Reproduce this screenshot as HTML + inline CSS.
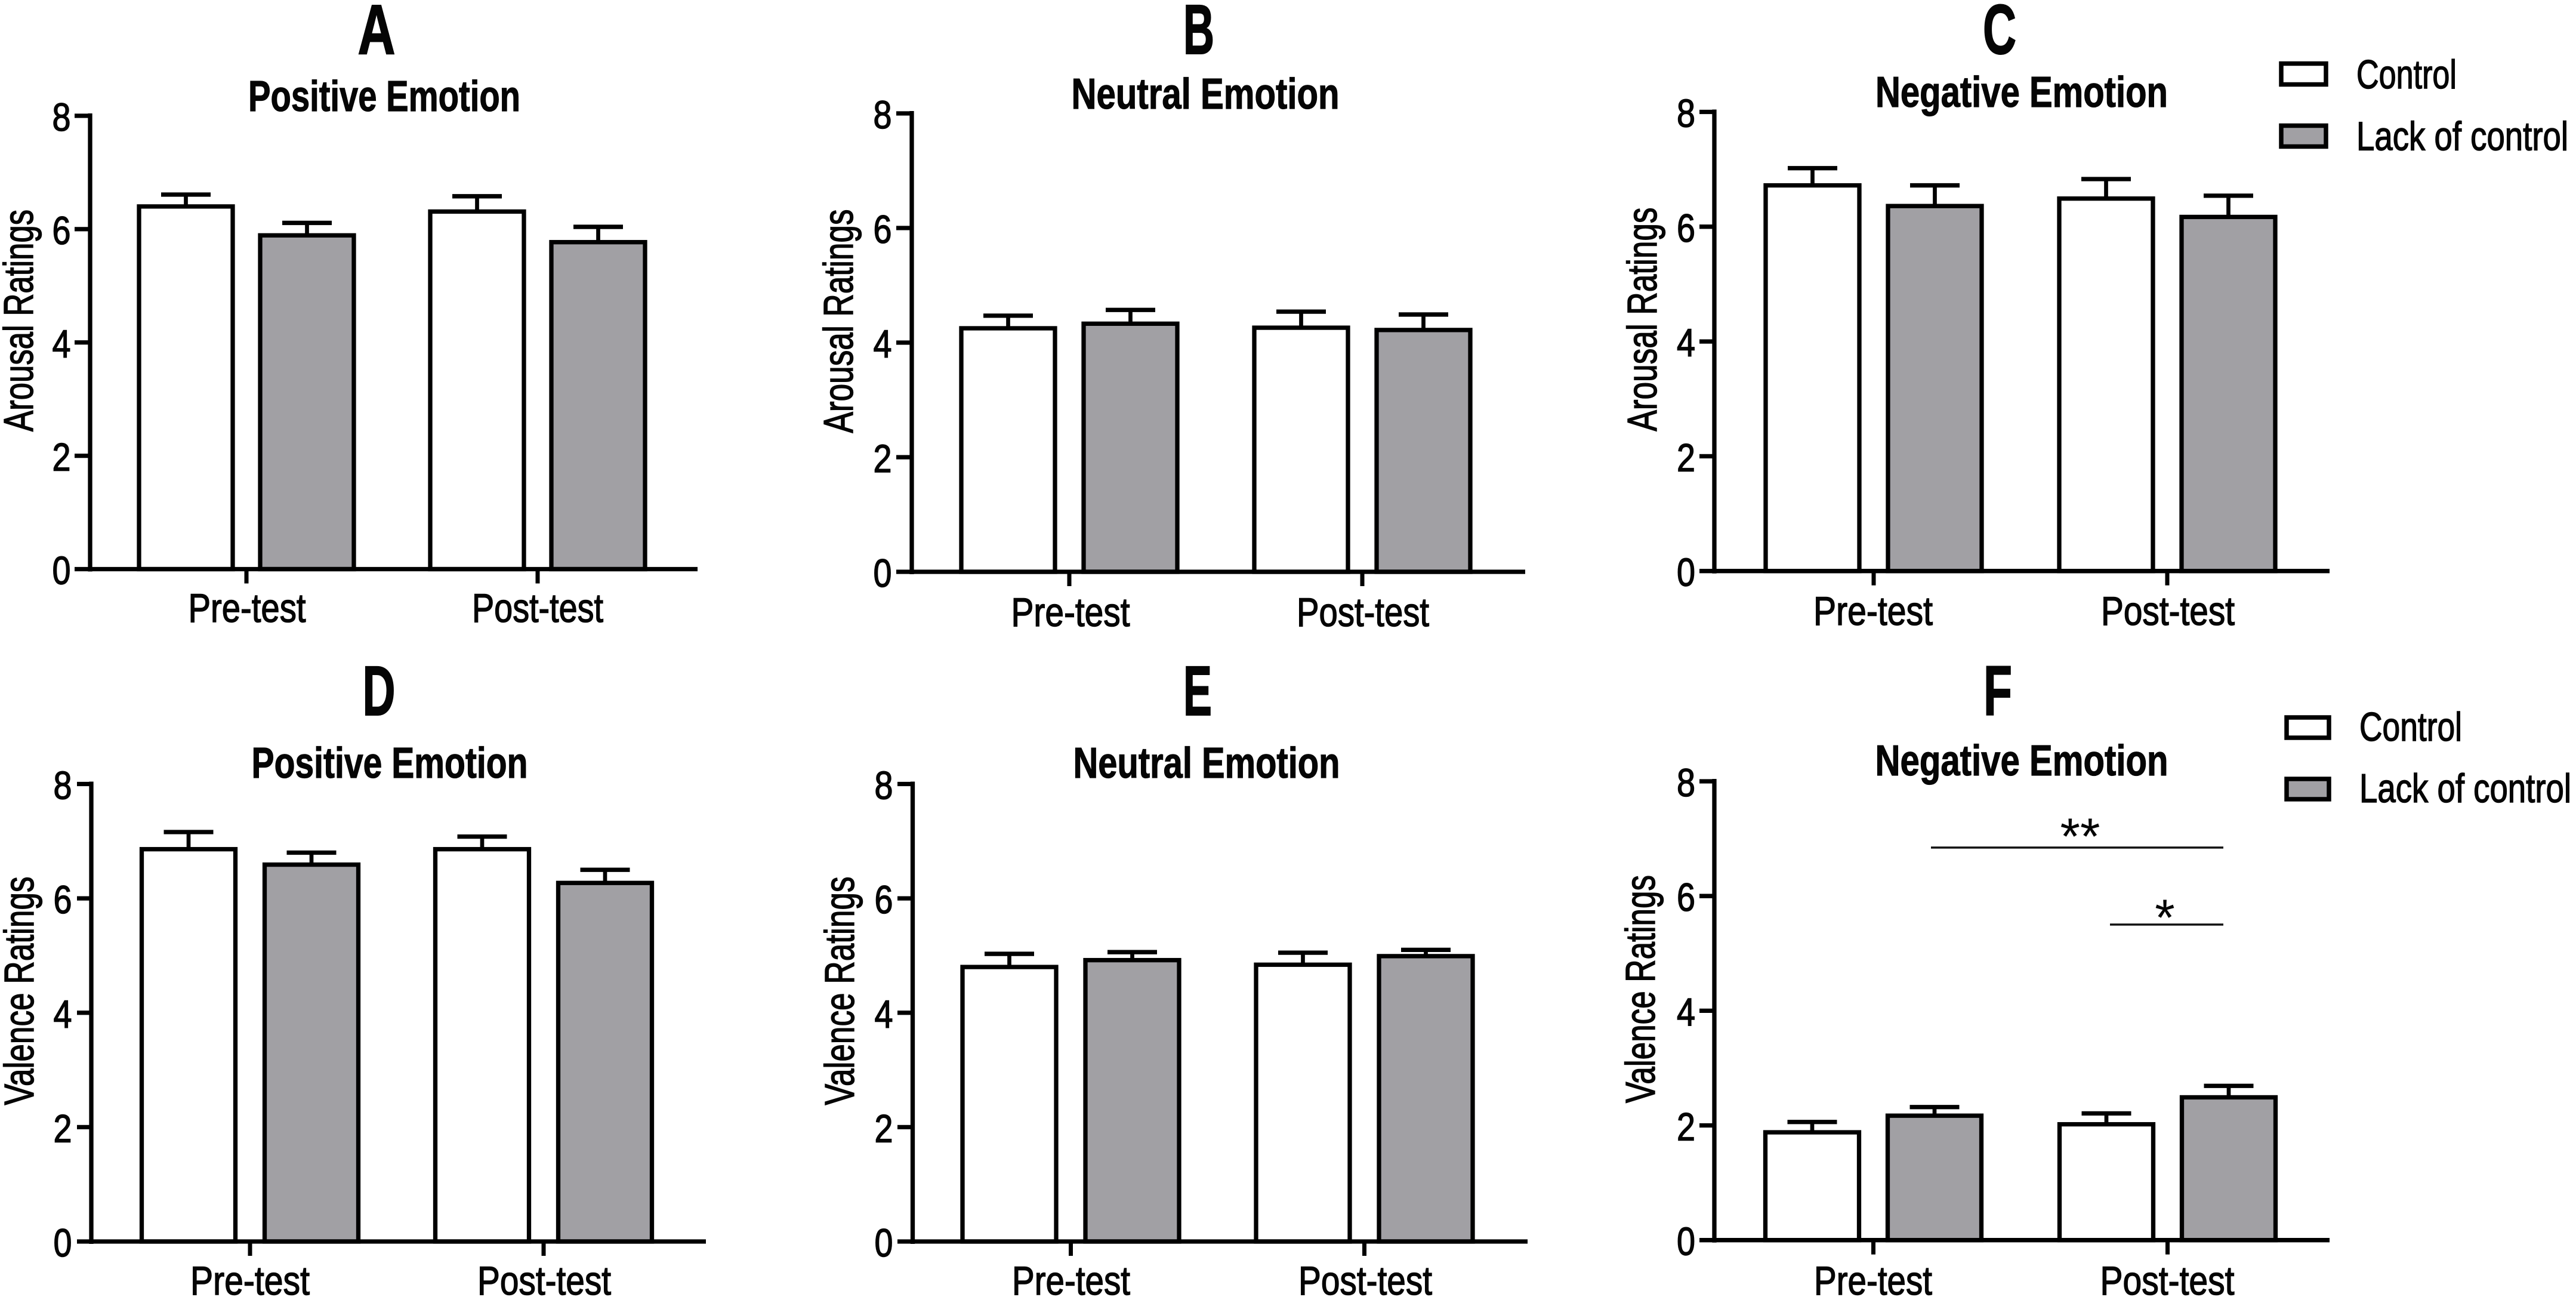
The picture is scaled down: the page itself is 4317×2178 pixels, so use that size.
<!DOCTYPE html>
<html lang="en">
<head>
<meta charset="utf-8">
<title>Arousal and valence ratings by emotion</title>
<style>
html,body{margin:0;padding:0;background:#fff;}
svg{display:block;}
text{font-family:"Liberation Sans",sans-serif;fill:#050505;stroke:#050505;stroke-width:1.500px;}
.ttl{font-size:72px;font-weight:bold;text-anchor:middle;stroke-width:1.200px;}
.let{font-size:118px;font-weight:bold;text-anchor:middle;stroke-width:2px;}
.xl{font-size:68px;text-anchor:middle;}
.yl{font-size:70px;text-anchor:middle;}
.leg{font-size:68px;}
.star{font-size:86px;text-anchor:middle;stroke-width:0;}
</style>
</head>
<body>
<svg xmlns="http://www.w3.org/2000/svg" id="figure" width="4317" height="2178" viewBox="0 0 4317 2178">
<rect x="0" y="0" width="4317" height="2178" fill="#ffffff"/>

<g id="panel-a">
<text class="let" x="631" y="90" textLength="63" lengthAdjust="spacingAndGlyphs">A</text>
<text class="ttl" x="644" y="186" textLength="456" lengthAdjust="spacingAndGlyphs">Positive Emotion</text>
<text class="yl" transform="translate(55,537) rotate(-90)" textLength="372" lengthAdjust="spacingAndGlyphs">Arousal Ratings</text>
<text class="xl" x="414" y="1042" textLength="197" lengthAdjust="spacingAndGlyphs">Pre-test</text>
<text class="xl" x="901" y="1042" textLength="220" lengthAdjust="spacingAndGlyphs">Post-test</text>
</g>

<g id="panel-b">
<text class="let" x="2009" y="90" textLength="52" lengthAdjust="spacingAndGlyphs">B</text>
<text class="ttl" x="2020" y="182" textLength="449" lengthAdjust="spacingAndGlyphs">Neutral Emotion</text>
<text class="yl" transform="translate(1429,538) rotate(-90)" textLength="375" lengthAdjust="spacingAndGlyphs">Arousal Ratings</text>
<text class="xl" x="1794" y="1049" textLength="199" lengthAdjust="spacingAndGlyphs">Pre-test</text>
<text class="xl" x="2284" y="1049" textLength="222" lengthAdjust="spacingAndGlyphs">Post-test</text>
</g>

<g id="panel-c">
<text class="let" x="3351" y="90" textLength="56" lengthAdjust="spacingAndGlyphs">C</text>
<text class="ttl" x="3388" y="179" textLength="490" lengthAdjust="spacingAndGlyphs">Negative Emotion</text>
<text class="yl" transform="translate(2776,535) rotate(-90)" textLength="375" lengthAdjust="spacingAndGlyphs">Arousal Ratings</text>
<text class="xl" x="3139" y="1047" textLength="200" lengthAdjust="spacingAndGlyphs">Pre-test</text>
<text class="xl" x="3633" y="1047" textLength="224" lengthAdjust="spacingAndGlyphs">Post-test</text>
</g>

<g id="panel-d">
<text class="let" x="635" y="1198" textLength="55" lengthAdjust="spacingAndGlyphs">D</text>
<text class="ttl" x="653" y="1303" textLength="463" lengthAdjust="spacingAndGlyphs">Positive Emotion</text>
<text class="yl" transform="translate(56,1660) rotate(-90)" textLength="383" lengthAdjust="spacingAndGlyphs">Valence Ratings</text>
<text class="xl" x="419" y="2169" textLength="200" lengthAdjust="spacingAndGlyphs">Pre-test</text>
<text class="xl" x="912" y="2169" textLength="224" lengthAdjust="spacingAndGlyphs">Post-test</text>
</g>

<g id="panel-e">
<text class="let" x="2007" y="1198" textLength="48" lengthAdjust="spacingAndGlyphs">E</text>
<text class="ttl" x="2022" y="1303" textLength="447" lengthAdjust="spacingAndGlyphs">Neutral Emotion</text>
<text class="yl" transform="translate(1431,1660) rotate(-90)" textLength="383" lengthAdjust="spacingAndGlyphs">Valence Ratings</text>
<text class="xl" x="1795" y="2169" textLength="198" lengthAdjust="spacingAndGlyphs">Pre-test</text>
<text class="xl" x="2288" y="2169" textLength="224" lengthAdjust="spacingAndGlyphs">Post-test</text>
</g>

<g id="panel-f">
<text class="let" x="3348" y="1198" textLength="48" lengthAdjust="spacingAndGlyphs">F</text>
<text class="ttl" x="3388" y="1299" textLength="491" lengthAdjust="spacingAndGlyphs">Negative Emotion</text>
<text class="yl" transform="translate(2773,1657) rotate(-90)" textLength="382" lengthAdjust="spacingAndGlyphs">Valence Ratings</text>
<text class="xl" x="3139" y="2169" textLength="198" lengthAdjust="spacingAndGlyphs">Pre-test</text>
<text class="xl" x="3632" y="2169" textLength="225" lengthAdjust="spacingAndGlyphs">Post-test</text>
<line x1="3236" y1="1420" x2="3726" y2="1420" stroke="#111" stroke-width="3.500"/>
<text class="star" x="3486" y="1431">**</text>
<line x1="3536" y1="1549" x2="3726" y2="1549" stroke="#111" stroke-width="3.500"/>
<text class="star" x="3628" y="1567">*</text>
</g>

<g id="legend-top">
<rect x="3823" y="106.500" width="75" height="35" fill="#ffffff" stroke="#000" stroke-width="7.500"/>
<text class="leg" x="3949" y="148" textLength="168" lengthAdjust="spacingAndGlyphs">Control</text>
<rect x="3823" y="210.500" width="75" height="35" fill="#a1a0a4" stroke="#000" stroke-width="7.500"/>
<text class="leg" x="3949" y="251.500" textLength="355" lengthAdjust="spacingAndGlyphs">Lack of control</text>
</g>

<g id="legend-bottom">
<rect x="3832" y="1202" width="71" height="34" fill="#ffffff" stroke="#000" stroke-width="7.500"/>
<text class="leg" x="3954" y="1241" textLength="172" lengthAdjust="spacingAndGlyphs">Control</text>
<rect x="3832" y="1305" width="71" height="34" fill="#a1a0a4" stroke="#000" stroke-width="7.500"/>
<text class="leg" x="3954" y="1344" textLength="355" lengthAdjust="spacingAndGlyphs">Lack of control</text>
</g>
</svg>

<script>
// Chart data: values. Each array is ordered
// [Pre-test Control, Pre-test Lack of control, Post-test Control, Post-test Lack of control].
const yTickLabels = [0, 2, 4, 6, 8];
const meansA = [6.40, 5.89, 6.31, 5.77];
const errorsA = [0.21, 0.22, 0.27, 0.27];
const meansB = [4.25, 4.33, 4.26, 4.22];
const errorsB = [0.22, 0.24, 0.28, 0.27];
const meansC = [6.72, 6.36, 6.49, 6.17];
const errorsC = [0.30, 0.36, 0.34, 0.37];
const meansD = [6.86, 6.59, 6.86, 6.27];
const errorsD = [0.30, 0.21, 0.22, 0.23];
const meansE = [4.80, 4.92, 4.84, 4.99];
const errorsE = [0.23, 0.14, 0.21, 0.11];
const meansF = [1.88, 2.17, 2.02, 2.49];
const errorsF = [0.18, 0.15, 0.19, 0.20];

// Panel frames (layout only, not data).
const frames = [
  {id:'panel-a', means:meansA, errors:errorsA, axisX:151,    top:194,    base:953.5,  tickLeft:125,  end:1169, group0:413,   groupStep:488, offset:101.5, numX:103},
  {id:'panel-b', means:meansB, errors:errorsB, axisX:1528,   top:190,    base:958,    tickLeft:1502, end:2556, group0:1792,  groupStep:491, offset:102.5, numX:1479},
  {id:'panel-c', means:meansC, errors:errorsC, axisX:2873,   top:187.5,  base:956.7,  tickLeft:2848, end:3904, group0:3140,  groupStep:492, offset:102.5, numX:2825.5},
  {id:'panel-d', means:meansD, errors:errorsD, axisX:153,    top:1313.5, base:2080,   tickLeft:129,  end:1183, group0:419,   groupStep:492, offset:103,   numX:105},
  {id:'panel-e', means:meansE, errors:errorsE, axisX:1529.5, top:1313.5, base:2080,   tickLeft:1504, end:2560, group0:1794.5,groupStep:492, offset:103,   numX:1481},
  {id:'panel-f', means:meansF, errors:errorsF, axisX:2873,   top:1309,   base:2077.7, tickLeft:2848, end:3904, group0:3139.5,groupStep:493, offset:102.5, numX:2825.5}
];
const yMax = 8;
const barWidth = 157;
const capHalf = 41.5;
const NS = 'http://www.w3.org/2000/svg';

function makeYScale(f) {
  return function (v) { return f.base - (v / yMax) * (f.base - f.top); };
}
function makeXScale(f) {
  return function (barIndex) {
    const group = Math.floor(barIndex / 2);
    const side = barIndex % 2 === 0 ? -1 : 1;
    return f.group0 + group * f.groupStep + side * f.offset;
  };
}
function shape(tag, attrs) {
  const node = document.createElementNS(NS, tag);
  Object.keys(attrs).forEach(function (k) { node.setAttribute(k, attrs[k]); });
  return node;
}

frames.forEach(function (f) {
  const g = document.getElementById(f.id);
  const y = makeYScale(f);
  const x = makeXScale(f);

  f.means.forEach(function (mean, i) {
    const cx = x(i);
    const topY = y(mean);
    const errY = y(mean + f.errors[i]);

    const stem = shape('line', {x1: cx, y1: topY, x2: cx, y2: errY, stroke: '#000', 'stroke-width': 6.7});
    
    
    g.appendChild(stem);

    const cap = shape('line', {x1: cx - capHalf, y1: errY, x2: cx + capHalf, y2: errY, stroke: '#000', 'stroke-width': 7.3});
    
    
    g.appendChild(cap);

    const isControl = i % 2 === 0;
    const bar = shape('rect', {
      x: cx - barWidth / 2, y: topY, width: barWidth, height: f.base - topY,
      fill: isControl ? '#ffffff' : '#a1a0a4', stroke: '#000', 'stroke-width': 7.3
    });
    
    
    g.appendChild(bar);
  });

  const yAxis = shape('line', {x1: f.axisX, y1: f.top - 4, x2: f.axisX, y2: f.base + 4, stroke: '#000', 'stroke-width': 7.3});
  
  
  g.appendChild(yAxis);

  const xAxis = shape('line', {x1: f.axisX, y1: f.base, x2: f.end, y2: f.base, stroke: '#000', 'stroke-width': 7.3});
  
  
  g.appendChild(xAxis);

  [0, 1].forEach(function (k) {
    const tx = f.group0 + k * f.groupStep;
    const xTick = shape('line', {x1: tx, y1: f.base, x2: tx, y2: f.base + 24, stroke: '#000', 'stroke-width': 7});
    
    
    g.appendChild(xTick);
  });

  yTickLabels.forEach(function (v) {
    const ty = y(v);
    const yTick = shape('line', {x1: f.tickLeft, y1: ty, x2: f.axisX, y2: ty, stroke: '#000', 'stroke-width': 7.3});
    
    
    g.appendChild(yTick);

    const label = shape('text', {x: f.numX, y: ty + 25, 'text-anchor': 'middle', 'font-size': 66, textLength: 31, lengthAdjust: 'spacingAndGlyphs'});
    label.textContent = String(v);
    
    
    g.appendChild(label);
  });
});
</script>
</body>
</html>
